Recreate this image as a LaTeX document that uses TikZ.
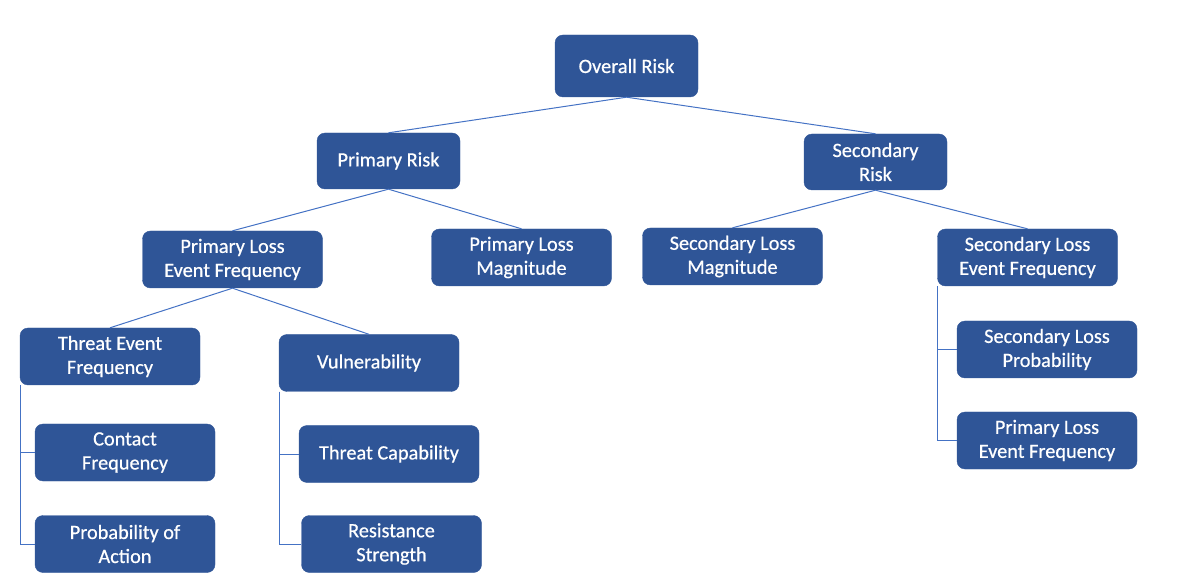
\documentclass[tikz,border=0pt]{standalone}
\usepackage{fontspec}
\setmainfont{Carlito}
\newfontfamily\boxfont[FakeBold=0.6]{Carlito}
\definecolor{boxblue}{HTML}{2F5597}
\definecolor{lineblue}{HTML}{4472C4}
\begin{document}
\begin{tikzpicture}[x=1pt,y=-1pt,
  box/.style={draw=boxblue, fill=boxblue, rounded corners=8pt, text=white,
    align=center, inner sep=0pt, minimum width=180pt, minimum height=57pt,
    font=\boxfont\fontsize{20.3}{24}\selectfont},
  smallbox/.style={box, minimum width=143pt},
  link/.style={draw=lineblue, line width=1pt}]
\useasboundingbox (0,0) rectangle (1203,577);
\node[smallbox, minimum height=62pt] (overall) at (626.5,66) {Overall Risk};
\node[smallbox, minimum height=56pt] (prisk) at (388.5,161) {Primary Risk};
\node[smallbox, minimum height=56pt] (srisk) at (875.5,162) {Secondary\\Risk};
\node[box] (plef) at (232.5,259.5) {Primary Loss\\Event Frequency};
\node[box] (plm) at (521.5,257.5) {Primary Loss\\Magnitude};
\node[box] (slm) at (732.5,256.5) {Secondary Loss\\Magnitude};
\node[box] (slef) at (1027.5,257.5) {Secondary Loss\\Event Frequency};
\node[box] (tef) at (110,356.5) {Threat Event\\Frequency};
\node[box] (cf) at (125,452.5) {Contact\\Frequency};
\node[box] (poa) at (125,544) {Probability of\\Action};
\node[box] (vul) at (369,363) {Vulnerability};
\node[box] (tc) at (389,454) {Threat Capability};
\node[box] (rs) at (391.5,544) {Resistance\\Strength};
\node[box] (slp) at (1047,349.5) {Secondary Loss\\Probability};
\node[box] (plef2) at (1047,440.5) {Primary Loss\\Event Frequency};
\draw[link] (overall.south) -- (prisk.north);
\draw[link] (overall.south) -- (srisk.north);
\draw[link] (prisk.south) -- (plef.north);
\draw[link] (prisk.south) -- (plm.north);
\draw[link] (srisk.south) -- (slm.north);
\draw[link] (srisk.south) -- (slef.north);
\draw[link] (plef.south) -- (tef.north);
\draw[link] (plef.south) -- (vul.north);
\draw[link] ([xshift=0.5pt]tef.south west) |- (cf.west);
\draw[link] ([xshift=0.5pt]tef.south west) |- (poa.west);
\draw[link] ([xshift=0.5pt]vul.south west) |- (tc.west);
\draw[link] ([xshift=0.5pt]vul.south west) |- (rs.west);
\draw[link] ([xshift=0.5pt]slef.south west) |- (slp.west);
\draw[link] ([xshift=0.5pt]slef.south west) |- (plef2.west);
\end{tikzpicture}
\end{document}
